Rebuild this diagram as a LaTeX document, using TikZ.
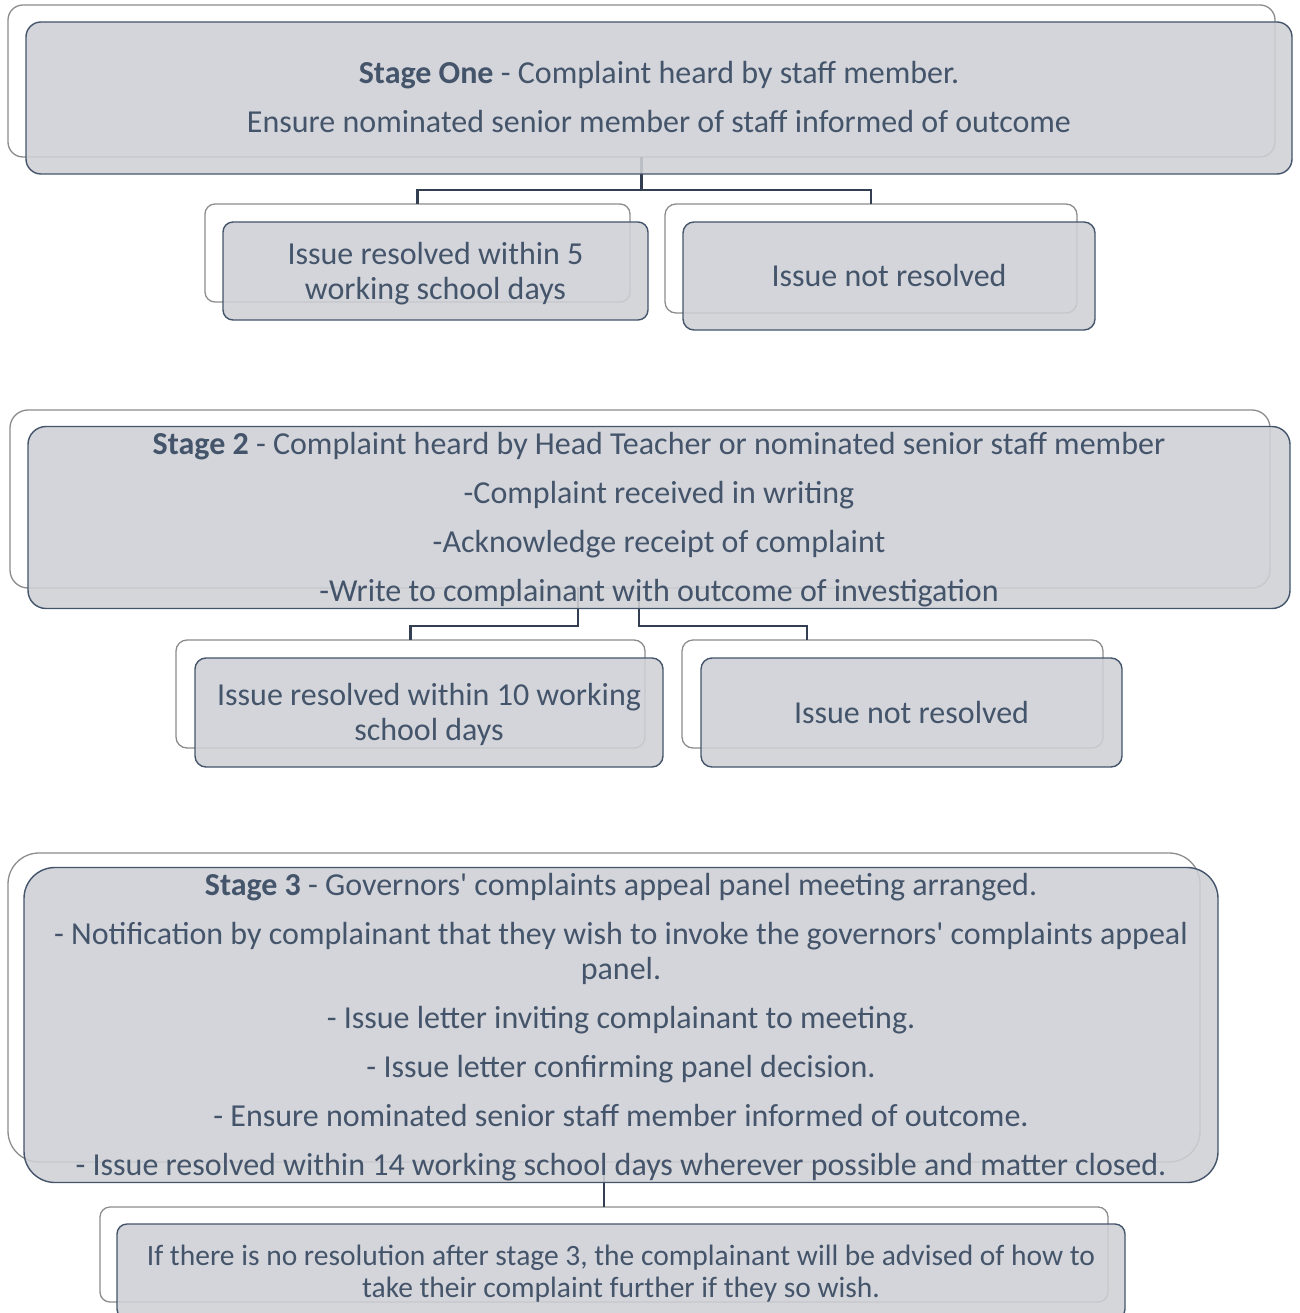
\documentclass[tikz,border=0pt]{standalone}
\usepackage{fontspec}
\setmainfont{Carlito}
\usetikzlibrary{calc}
\newcommand\apos{\XeTeXglyph\XeTeXcharglyph"27\relax}
\newcommand\st{\rule[-7pt]{0pt}{35pt}}
\newcommand\sts{\rule[-6pt]{0pt}{32pt}}
\definecolor{txt}{HTML}{44546A}
\definecolor{bord}{HTML}{44546A}
\definecolor{fillg}{RGB}{206,208,213}
\definecolor{backb}{HTML}{8C8C8C}
\definecolor{connc}{HTML}{333F50}
\begin{document}
\begin{tikzpicture}[x=1pt,y=-1pt,
  backbox/.style={draw=backb, fill=white, line width=1.3pt, inner sep=0pt, outer sep=0pt},
  frontbox/.style={draw=bord, fill=fillg, fill opacity=0.88, text opacity=1, line width=1.4pt,
    inner sep=0pt, outer sep=0pt, text=txt, align=center, font=\fontsize{32}{35}\selectfont},
  smalltext/.style={font=\fontsize{29.5}{32}\selectfont},
  conn/.style={draw=connc, line width=2.8pt}]
\useasboundingbox (0,0) rectangle (1299,1313);
% back boxes
\node[backbox, rounded corners=15pt, minimum width=1267pt, minimum height=152pt] (s1b) at (641.5,81) {};
\node[backbox, rounded corners=10pt, minimum width=425pt, minimum height=98pt] (a1b) at (417.5,253) {};
\node[backbox, rounded corners=11pt, minimum width=412pt, minimum height=109pt] (b1b) at (871,258.5) {};
\node[backbox, rounded corners=18pt, minimum width=1260pt, minimum height=178pt] (s2b) at (640,499) {};
\node[backbox, rounded corners=11pt, minimum width=469pt, minimum height=108pt] (a2b) at (410.5,694) {};
\node[backbox, rounded corners=11pt, minimum width=421pt, minimum height=108pt] (b2b) at (892.5,694) {};
\node[backbox, rounded corners=31pt, minimum width=1192pt, minimum height=309pt] (s3b) at (604,1007.5) {};
\node[backbox, rounded corners=10pt, minimum width=1008pt, minimum height=95pt] (c3b) at (604,1254.5) {};
% connectors
\draw[conn] (s1b.south) -- ++(0,33) -| (a1b.north);
\draw[conn] (s1b.south) -- ++(0,33) -| (b1b.north);
\draw[conn] ([xshift=-62pt]s2b.south) -- ++(0,38) -| (a2b.north);
\draw[conn] ([xshift=-1pt]s2b.south) -- ++(0,38) -| ([xshift=-85.5pt]b2b.north);
\draw[conn] (s3b.south) -- (c3b.north);
% front boxes
\node[frontbox, rounded corners=15pt, minimum width=1266pt, minimum height=152pt] (s1) at (659,98)
  {\st\textbf{Stage One} - Complaint heard by staff member.\\[14pt]
   \st Ensure nominated senior member of staff informed of outcome};
\node[frontbox, rounded corners=10pt, minimum width=425pt, minimum height=98pt] (a1) at (435.5,271)
  {\st Issue resolved within 5\\\st working school days};
\node[frontbox, rounded corners=11pt, minimum width=412pt, minimum height=108pt] (b1) at (889,276)
  {\st Issue not resolved};
\node[frontbox, rounded corners=18pt, minimum width=1262pt, minimum height=179pt] (s2) at (659,517.5)
  {\st\textbf{Stage 2} - Complaint heard by Head Teacher or nominated senior staff member\\[14pt]
   \st -Complaint received in writing\\[14pt]
   \st -Acknowledge receipt of complaint\\[14pt]
   \st -Write to complainant with outcome of investigation};
\node[frontbox, rounded corners=11pt, minimum width=468pt, minimum height=109pt] (a2) at (429,712.5)
  {\st Issue resolved within 10 working\\\st school days};
\node[frontbox, rounded corners=11pt, minimum width=421pt, minimum height=109pt] (b2) at (911.5,712.5)
  {\st Issue not resolved};
\node[frontbox, rounded corners=31pt, minimum width=1194pt, minimum height=312pt] (s3) at (621,1025)
  {\st\textbf{Stage 3} - Governors\apos{} complaints appeal panel meeting arranged.\\[14pt]
   \st - Notification by complainant that they wish to invoke the governors\apos{} complaints appeal\\
   \st panel.\\[14pt]
   \st - Issue letter inviting complainant to meeting.\\[14pt]
   \st - Issue letter confirming panel decision.\\[14pt]
   \st - Ensure nominated senior staff member informed of outcome.\\[14pt]
   \st - Issue resolved within 14 working school days wherever possible and matter closed.};
\node[frontbox, smalltext, rounded corners=10pt, minimum width=1008pt, minimum height=95pt] (c3) at (621,1271.5)
  {\sts If there is no resolution after stage 3, the complainant will be advised of how to\\
   \sts take their complaint further if they so wish.};
\end{tikzpicture}
\end{document}
